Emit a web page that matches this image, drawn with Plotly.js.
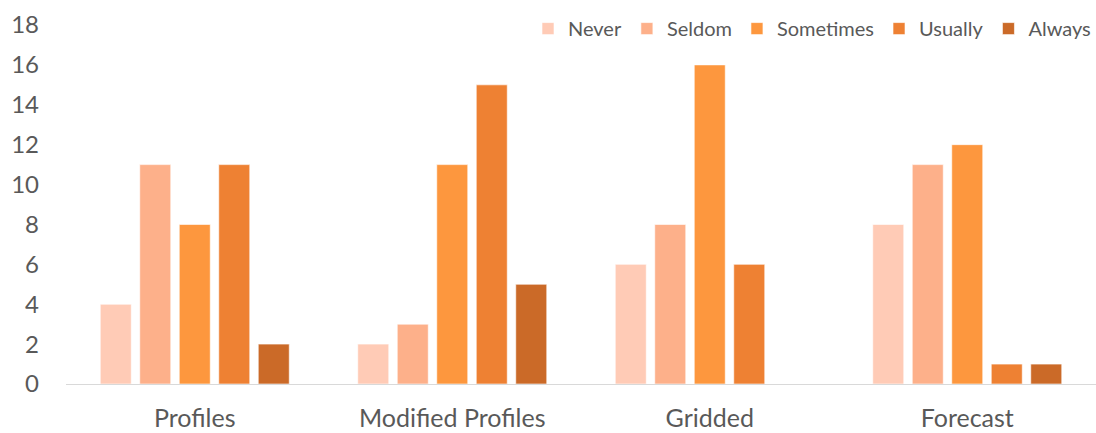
<!DOCTYPE html>
<html><head><meta charset="utf-8">
<script src="https://cdn.plot.ly/plotly-3.0.1.min.js"></script>
<style>html,body{margin:0;padding:0;background:#fff}#chart{width:1096px;height:433px}</style>
</head><body><div id="chart"></div>
<script>
const categories = ["Profiles", "Modified Profiles", "Gridded", "Forecast"];
const seriesNames = ["Never", "Seldom", "Sometimes", "Usually", "Always"];
const never = [4, 2, 6, 8];
const seldom = [11, 3, 8, 11];
const sometimes = [8, 11, 16, 12];
const usually = [11, 15, 6, 1];
const always = [2, 5, 0, 1];
const yTicks = [0, 2, 4, 6, 8, 10, 12, 14, 16, 18];
const colors = ["#FFCBB6", "#FDB08A", "#FD973E", "#EE8133", "#CB6A28"];

const values = [never, seldom, sometimes, usually, always];
const traces = seriesNames.map((n, i) => ({
  type: 'bar', name: n, x: categories, y: values[i],
  marker: {color: colors[i], line: {color: 'rgba(255,255,255,0.6)', width: 1}},
  hoverinfo: 'none'
}));

const font = "Lato, 'Open Sans', sans-serif";
const layout = {
  width: 1096, height: 433,
  margin: {l: 66, r: 0, t: 25, b: 49, autoexpand: false},
  paper_bgcolor: '#fff', plot_bgcolor: '#fff',
  barmode: 'group', bargap: 0.233, bargroupgap: 0.215,
  font: {family: font, color: '#595959'},
  showlegend: true,
  legend: {orientation: 'h', x: 1, xanchor: 'right', y: 0.99, yanchor: 'middle',
    font: {size: 20, color: '#595959', family: font}, itemwidth: 30, bgcolor: 'rgba(0,0,0,0)'},
  xaxis: {type: 'category', showgrid: false, zeroline: false, showline: true,
    linecolor: '#D9D9D9', linewidth: 1, ticks: '', tickfont: {size: 25, color: '#595959'},
    ticklabelstandoff: 12},
  yaxis: {range: [0, 18], tickvals: yTicks, showgrid: false, zeroline: false, showline: false,
    ticks: '', tickfont: {size: 24, color: '#595959'}, ticklabelstandoff: 26}
};
Plotly.newPlot('chart', traces, layout, {displayModeBar: false, staticPlot: true});
</script></body></html>
